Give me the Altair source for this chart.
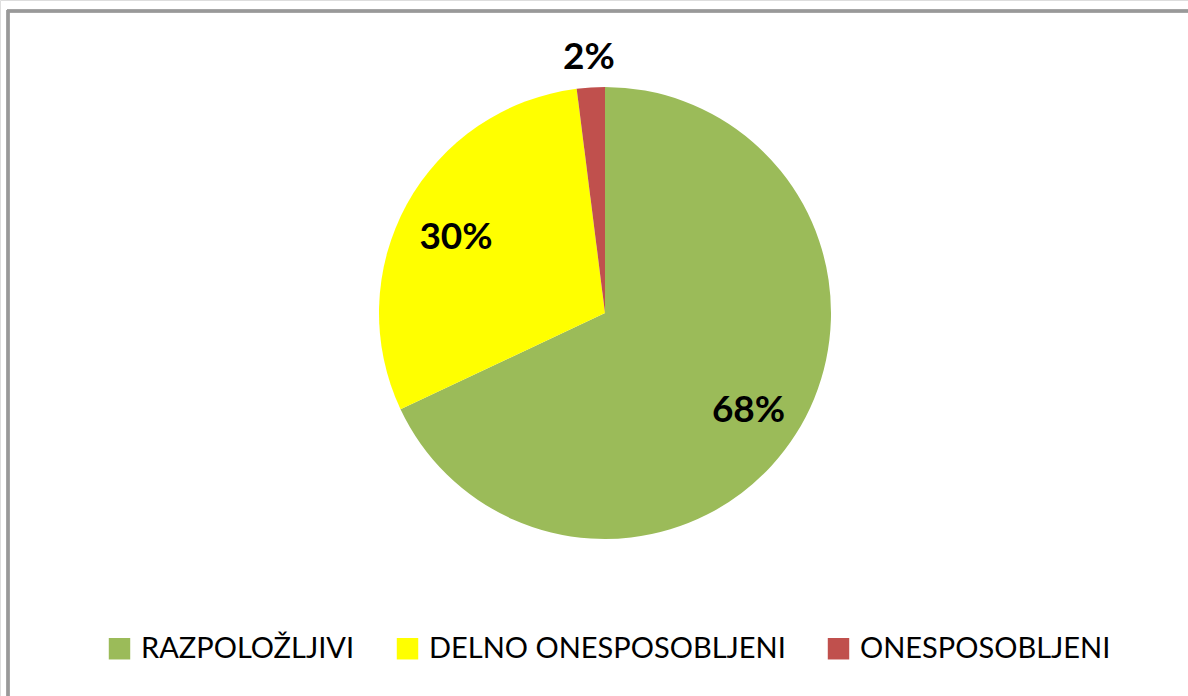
import altair as alt
import pandas as pd

categories = ["RAZPOLOŽLJIVI", "DELNO ONESPOSOBLJENI", "ONESPOSOBLJENI"]
values = [68, 30, 2]
labels = ["68%", "30%", "2%"]
colors = ["#9BBB59", "#FFFF00", "#C0504D"]

df = pd.DataFrame({
    "cat": categories,
    "value": values,
    "label": labels,
    "idx": list(range(len(categories))),
})

base = alt.Chart(df).encode(
    theta=alt.Theta("value:Q", stack=True),
    order=alt.Order("idx:Q"),
)

pie = base.mark_arc(x=605, y=313, outerRadius=226, stroke=None).encode(
    color=alt.Color(
        "cat:N",
        sort=categories,
        scale=alt.Scale(domain=categories, range=colors),
        legend=alt.Legend(
            title=None,
            orient="none",
            direction="horizontal",
            legendX=105,
            legendY=634,
            symbolType="square",
            symbolSize=460,
            symbolStrokeWidth=0,
            labelFont="Lato",
            labelFontSize=29,
            labelColor="#000000",
            labelOffset=7,
            columnPadding=38,
            labelLimit=600,
        ),
    ),
)

inner = base.mark_text(
    x=605, y=313, radius=170, dy=7, font="Lato", fontWeight="bold", fontSize=37, color="#000000"
).encode(
    detail="cat:N",
    text=alt.condition(alt.datum.value >= 5, "label:N", alt.value("")),
)

outer = base.mark_text(
    x=605, y=313, radius=256, font="Lato", fontWeight="bold", fontSize=37, color="#000000"
).encode(
    detail="cat:N",
    text=alt.condition(alt.datum.value < 5, "label:N", alt.value("")),
)

frame_top = alt.Chart(df).mark_rule(color="#999999", strokeWidth=3).encode(
    x=alt.value(7), x2=alt.value(1188), y=alt.value(11)
)
frame_left = alt.Chart(df).mark_rule(color="#999999", strokeWidth=3).encode(
    x=alt.value(8), y=alt.value(10), y2=alt.value(696)
)

chart = alt.layer(frame_top, frame_left, pie, inner, outer).properties(
    width=1188, height=696, padding=0, autosize="none"
).configure_view(stroke=None).configure(background="#FFFFFF")

chart.save("out.html", embed_options={"renderer": "svg", "actions": False})
